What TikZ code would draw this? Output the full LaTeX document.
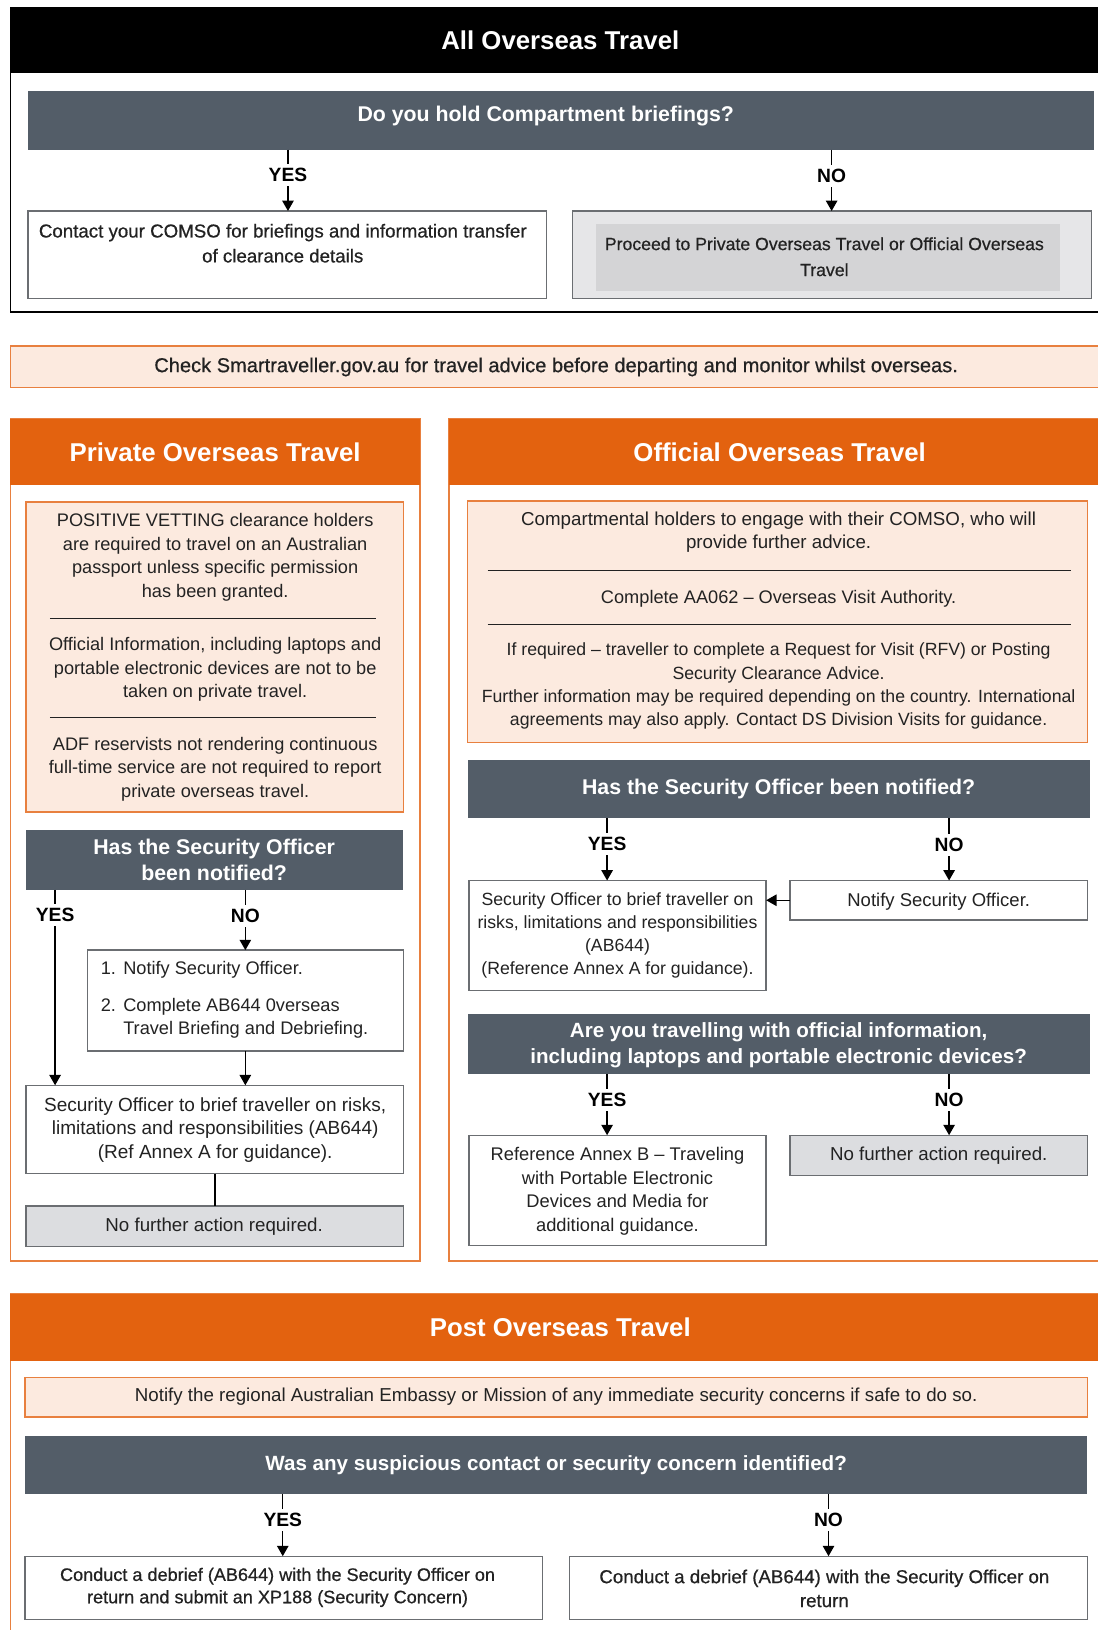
\documentclass[tikz,border=0pt]{standalone}
\usepackage{fontspec}
\setmainfont{Liberation Sans}
\newfontfamily\medfont[FakeBold=0.6]{Liberation Sans}
\usetikzlibrary{arrows.meta}
\definecolor{org}{HTML}{E3620F}
\definecolor{orgln}{HTML}{E8803F}
\definecolor{peach}{HTML}{FCEADF}
\definecolor{slate}{HTML}{535D68}
\definecolor{lgray}{HTML}{DCDDE0}
\definecolor{bdr}{HTML}{6B6E72}
\definecolor{outg}{HTML}{E6E6E8}
\definecolor{ing}{HTML}{D4D4D6}
\definecolor{ink}{HTML}{222222}
\newcommand\rbox[6]{%
  \pgfmathsetmacro\myBW{#4-#2}\pgfmathsetmacro\myBH{#5-#3}%
  \node[#6, minimum width=\myBW pt, minimum height=\myBH pt, anchor=north west] (#1) at (#2,#3) {};}
\newcommand\fs[2]{\fontsize{#1}{#2}\selectfont}
\tikzset{
  every node/.style={inner sep=0pt, outer sep=0pt},
  fr/.style={draw=orgln, line width=1.5pt},
  pch/.style={draw=orgln, fill=peach, line width=1.3pt},
  wbox/.style={draw=bdr, fill=white, line width=1.3pt},
  gbox/.style={draw=bdr, fill=lgray, line width=1.3pt},
  bar/.style={fill=slate},
  hd/.style={text=white, font=\fs{24.8}{28}\bfseries},
  qt/.style={text=white, align=center, font=\fs{20.5}{25.5}\bfseries},
  tx/.style={text=ink, align=center, font=\fs{17.5}{22.7}},
  txo/.style={text=ink, align=center, font=\fs{17}{22.3}},
  txm/.style={text=ink, align=center, font=\medfont\fs{18}{24}},
  lab/.style={fill=white, inner xsep=3pt, inner ysep=4pt, text=black, font=\fs{18.5}{20}\bfseries},
  arr/.style={-{Triangle[width=11pt,length=10pt]}, line width=1.4pt, black},
  ln/.style={line width=1.4pt, black},
  dv/.style={line width=1pt, ink},
}
\begin{document}
\begin{tikzpicture}[x=1pt, y=-1pt]
\fill[white] (0,0) rectangle (1056,1568);
\useasboundingbox (0,0) rectangle (1056,1568);

% ---------- All Overseas Travel ----------
\rbox{f1}{10}{8}{1066}{300}{draw=black, line width=1.6pt}
\rbox{h1}{10}{8}{1066}{70}{fill=black}
\node[hd] (h1t) at (539,39) {All Overseas Travel};
\rbox{q1}{27}{88}{1052}{144}{bar}
\node[qt] (q1t) at (525,112) {Do you hold Compartment briefings?};
\rbox{b1a}{27}{203}{526}{287}{wbox}
\node[txm] (b1at) at (272,234) {Contact your COMSO for briefings and information transfer\\of clearance details};
\rbox{b1b}{551}{203}{1050}{287}{draw=bdr, fill=outg, line width=1.3pt}
\rbox{b1bi}{573}{215}{1020}{280}{fill=ing}
\node[txm, font=\medfont\fs{17}{25}] (b1bt) at (793,247) {Proceed to Private Overseas Travel or Official Overseas\\Travel};
\coordinate (x1y) at (277,0);
\coordinate (x1n) at (800,0);
\draw[arr] (q1.south -| x1y) -- (b1a.north -| x1y);
\draw[arr] (q1.south -| x1n) -- (b1b.north -| x1n);
\node[lab] (l1y) at (277,168) {YES};
\node[lab] (l1n) at (800,169) {NO};

% ---------- Smartraveller ----------
\rbox{chk}{10}{333}{1066}{373}{pch}
\node[txm, font=\medfont\fs{19.3}{22}] (chkt) at (535,353) {Check Smartraveller.gov.au for travel advice before departing and monitor whilst overseas.};

% ---------- Private Overseas Travel ----------
\rbox{f3}{10}{403}{404}{1213}{fr}
\rbox{h3}{10}{403}{404}{467}{fill=org}
\node[hd] (h3t) at (207,435) {Private Overseas Travel};
\rbox{p3}{25}{483}{388}{781}{pch}
\node[tx] (p3a) at (207,536) {POSITIVE VETTING clearance holders\\are required to travel on an Australian\\passport unless specific permission\\has been granted.};
\draw[dv] (48,595) -- (362,595);
\node[tx] (p3b) at (207,644) {Official Information, including laptops and\\portable electronic devices are not to be\\taken on private travel.};
\draw[dv] (48,690) -- (362,690);
\node[tx] (p3c) at (207,740) {ADF reservists not rendering continuous\\full-time service are not required to report\\private overseas travel.};
\rbox{q3}{25}{798}{388}{856}{bar}
\node[qt] (q3t) at (206,827) {Has the Security Officer\\been notified?};
\rbox{n3}{84}{914}{388}{1011}{wbox}
\node[tx, align=left, anchor=west] (n3t) at (97,962) {\begin{tabular}{@{}l@{\hspace{7pt}}l@{}}1. & Notify Security Officer.\\[12pt] 2. & Complete AB644 0verseas\\ & Travel Briefing and Debriefing.\end{tabular}};
\rbox{s3}{25}{1044}{388}{1129}{wbox}
\node[tx, font=\fs{18.3}{22.7}] (s3t) at (207,1087) {Security Officer to brief traveller on risks,\\limitations and responsibilities (AB644)\\(Ref Annex A for guidance).};
\rbox{nf3}{25}{1160}{388}{1199}{gbox}
\node[tx, font=\fs{18}{22}] (nf3t) at (206,1180) {No further action required.};
\coordinate (x3y) at (53,0);
\coordinate (x3n) at (236,0);
\coordinate (x3l) at (207,0);
\draw[arr] (q3.south -| x3y) -- (s3.north -| x3y);
\draw[arr] (q3.south -| x3n) -- (n3.north -| x3n);
\draw[arr] (n3.south -| x3n) -- (s3.north -| x3n);
\draw[ln] (s3.south -| x3l) -- (nf3.north -| x3l);
\node[lab] (l3y) at (53,880) {YES};
\node[lab] (l3n) at (236,881) {NO};

% ---------- Official Overseas Travel ----------
\rbox{f4}{432}{403}{1066}{1213}{fr}
\rbox{h4}{432}{403}{1066}{467}{fill=org}
\node[hd] (h4t) at (750,435) {Official Overseas Travel};
\rbox{p4}{450}{482}{1046}{714}{pch}
\node[txo, font=\fs{18}{22.3}] (p4a) at (749,512) {Compartmental holders to engage with their COMSO, who will\\provide further advice.};
\draw[dv] (469,549) -- (1030,549);
\node[txo, font=\fs{17.5}{22.3}] (p4b) at (749,576) {Complete AA062 – Overseas Visit Authority.};
\draw[dv] (469,601) -- (1030,601);
\node[txo] (p4c) at (749,660) {If required – traveller to complete a Request for Visit (RFV) or Posting\\Security Clearance Advice.\\Further information may be required depending on the country. International\\agreements may also apply. Contact DS Division Visits for guidance.};
\rbox{q4}{450}{731}{1049}{787}{bar}
\node[qt] (q4t) at (749,759) {Has the Security Officer been notified?};
\rbox{s4}{451}{847}{737}{953}{wbox}
\node[txo] (s4t) at (594,900) {Security Officer to brief traveller on\\risks, limitations and responsibilities\\(AB644)\\(Reference Annex A for guidance).};
\rbox{n4}{760}{847}{1046}{885}{wbox}
\node[txo, font=\fs{17.8}{22}] (n4t) at (903,867) {Notify Security Officer.};
\coordinate (x4y) at (584,0);
\coordinate (x4n) at (913,0);
\draw[arr] (q4.south -| x4y) -- (s4.north -| x4y);
\draw[arr] (q4.south -| x4n) -- (n4.north -| x4n);
\draw[arr] (n4.west) -- (s4.east |- n4.west);
\node[lab] (l4y) at (584,812) {YES};
\node[lab] (l4n) at (913,813) {NO};
\rbox{q4b}{450}{975}{1049}{1033}{bar}
\node[qt, font=\fs{19.8}{25}\bfseries] (q4bt) at (749,1005) {Are you travelling with official information,\\including laptops and portable electronic devices?};
\rbox{r4}{451}{1092}{737}{1198}{wbox}
\node[txo, font=\fs{17.6}{22.7}] (r4t) at (594,1146) {Reference Annex B – Traveling\\with Portable Electronic\\Devices and Media for\\additional guidance.};
\rbox{nf4}{760}{1092}{1046}{1131}{gbox}
\node[txo, font=\fs{18}{22}] (nf4t) at (903,1112) {No further action required.};
\draw[arr] (q4b.south -| x4y) -- (r4.north -| x4y);
\draw[arr] (q4b.south -| x4n) -- (nf4.north -| x4n);
\node[lab] (l4by) at (584,1058) {YES};
\node[lab] (l4bn) at (913,1058) {NO};

% ---------- Post Overseas Travel ----------
\rbox{f5}{10}{1245}{1066}{1590}{fr}
\rbox{h5}{10}{1245}{1066}{1309}{fill=org}
\node[hd] (h5t) at (539,1277) {Post Overseas Travel};
\rbox{p5}{24}{1325}{1046}{1363}{pch}
\node[txo, font=\fs{18}{20}] (p5t) at (535,1344) {Notify the regional Australian Embassy or Mission of any immediate security concerns if safe to do so.};
\rbox{q5}{24}{1381}{1046}{1437}{bar}
\node[qt, font=\fs{19.8}{24}\bfseries] (q5t) at (535,1409) {Was any suspicious contact or security concern identified?};
\rbox{c5a}{24}{1497}{522}{1558}{wbox}
\node[txm, font=\medfont\fs{17.4}{21.5}] (c5at) at (267,1527) {Conduct a debrief (AB644) with the Security Officer on\\return and submit an XP188 (Security Concern)};
\rbox{c5b}{548}{1497}{1046}{1558}{wbox}
\node[txm, font=\medfont\fs{18}{23}] (c5bt) at (793,1528) {Conduct a debrief (AB644) with the Security Officer on\\return};
\coordinate (x5y) at (272,0);
\coordinate (x5n) at (797,0);
\draw[arr] (q5.south -| x5y) -- (c5a.north -| x5y);
\draw[arr] (q5.south -| x5n) -- (c5b.north -| x5n);
\node[lab] (l5y) at (272,1462) {YES};
\node[lab] (l5n) at (797,1462) {NO};
\end{tikzpicture}
\end{document}
